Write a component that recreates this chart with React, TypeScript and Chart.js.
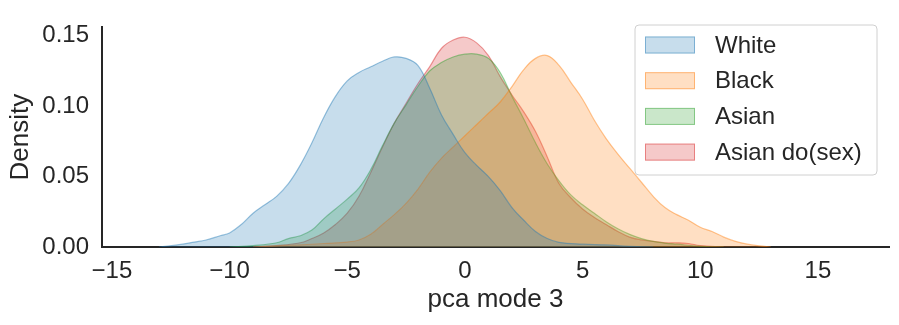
import React, { useEffect, useRef } from "react";
import { Chart, registerables } from "chart.js";

Chart.register(...registerables);

// ---- data ----
const seriesLabels = ["White", "Black", "Asian", "Asian do(sex)"];

const whiteX = [-13, -12, -11.5, -11, -10.4, -10, -9.5, -9, -8.5, -8, -7.5, -7, -6.5, -6, -5.5, -5, -4.5, -4, -3.5, -3, -2.5, -2, -1.5, -1, -0.5, 0, 0.5, 1, 1.5, 2, 2.5, 3, 3.5, 4, 5, 6, 7, 8];
const whiteY = [0, 0.002, 0.0035, 0.005, 0.008, 0.01, 0.016, 0.024, 0.03, 0.036, 0.045, 0.058, 0.074, 0.092, 0.107, 0.118, 0.124, 0.128, 0.132, 0.135, 0.134, 0.129, 0.113, 0.094, 0.08, 0.067, 0.058, 0.05, 0.04, 0.028, 0.019, 0.011, 0.006, 0.0033, 0.002, 0.0015, 0.0005, 0];

const blackX = [-9, -8, -7, -6, -5, -4.5, -4, -3.5, -3, -2.5, -2, -1.5, -1, -0.5, 0, 0.5, 1, 1.5, 2, 2.5, 3, 3.5, 4, 4.5, 5, 5.5, 6, 6.5, 7, 7.5, 8, 8.5, 9, 9.5, 10, 10.5, 11, 11.5, 12, 12.5, 13];
const blackY = [0, 0.0008, 0.0015, 0.0025, 0.0035, 0.005, 0.009, 0.016, 0.023, 0.031, 0.041, 0.053, 0.063, 0.071, 0.079, 0.087, 0.095, 0.103, 0.114, 0.126, 0.134, 0.136, 0.129, 0.117, 0.105, 0.09, 0.077, 0.066, 0.056, 0.046, 0.036, 0.028, 0.023, 0.019, 0.014, 0.011, 0.007, 0.004, 0.002, 0.0008, 0];

const asianX = [-10, -9, -8, -7.5, -7, -6.5, -6, -5.5, -5, -4.5, -4, -3.5, -3, -2.5, -2, -1.5, -1, -0.5, 0, 0.5, 1, 1.5, 2, 2.5, 3, 3.5, 4, 4.5, 5, 5.5, 6, 6.5, 7, 7.5, 8, 8.5, 9, 10, 11];
const asianY = [0, 0.001, 0.003, 0.006, 0.008, 0.012, 0.02, 0.027, 0.034, 0.042, 0.055, 0.072, 0.088, 0.101, 0.114, 0.125, 0.131, 0.135, 0.137, 0.137, 0.134, 0.124, 0.107, 0.091, 0.074, 0.059, 0.047, 0.037, 0.03, 0.024, 0.018, 0.013, 0.009, 0.006, 0.004, 0.0028, 0.002, 0.0005, 0];

const doSexX = [-9, -8, -7, -6.5, -6, -5.5, -5, -4.5, -4, -3.5, -3, -2.5, -2, -1.5, -1, -0.5, 0, 0.5, 1, 1.5, 2, 2.5, 3, 3.5, 4, 4.5, 5, 5.5, 6, 6.5, 7, 7.5, 8, 8.5, 9, 9.5, 10, 11];
const doSexY = [0, 0.001, 0.003, 0.006, 0.01, 0.016, 0.024, 0.036, 0.053, 0.071, 0.088, 0.102, 0.116, 0.128, 0.141, 0.147, 0.149, 0.145, 0.136, 0.121, 0.108, 0.096, 0.082, 0.064, 0.045, 0.035, 0.027, 0.021, 0.016, 0.011, 0.007, 0.005, 0.004, 0.003, 0.003, 0.0025, 0.001, 0];

const xTicks = [-15, -10, -5, 0, 5, 10, 15];
const yTicks = [0, 0.05, 0.1, 0.15];
const xLabel = "pca mode 3";
const yLabel = "Density";

// ---- styles ----
const baseColors = [
  [31, 119, 180],
  [255, 127, 14],
  [44, 160, 44],
  [214, 39, 40],
];
const rgba = (c: number[], a: number) => `rgba(${c[0]},${c[1]},${c[2]},${a})`;
const FONT = "'Liberation Sans', Arial, Helvetica, sans-serif";
const TEXT = "#262626";

const legendPlugin = {
  id: "insideLegend",
  afterDraw(chart: any) {
    const ctx = chart.ctx;
    const x0 = 635, y0 = 25, w = 242, h = 150, r = 4;
    ctx.save();
    ctx.beginPath();
    ctx.moveTo(x0 + r, y0);
    ctx.lineTo(x0 + w - r, y0);
    ctx.arcTo(x0 + w, y0, x0 + w, y0 + r, r);
    ctx.lineTo(x0 + w, y0 + h - r);
    ctx.arcTo(x0 + w, y0 + h, x0 + w - r, y0 + h, r);
    ctx.lineTo(x0 + r, y0 + h);
    ctx.arcTo(x0, y0 + h, x0, y0 + h - r, r);
    ctx.lineTo(x0, y0 + r);
    ctx.arcTo(x0, y0, x0 + r, y0, r);
    ctx.closePath();
    ctx.fillStyle = "rgba(255,255,255,0.8)";
    ctx.fill();
    ctx.strokeStyle = "#d0d0d0";
    ctx.lineWidth = 1;
    ctx.stroke();
    chart.data.datasets.forEach((ds: any, i: number) => {
      const cy = 45 + i * 35.7;
      ctx.fillStyle = ds.backgroundColor;
      ctx.fillRect(645, cy - 8.5, 50, 17);
      ctx.strokeStyle = ds.borderColor;
      ctx.lineWidth = 1;
      ctx.strokeRect(645.5, cy - 8, 49, 16);
      ctx.fillStyle = TEXT;
      ctx.font = `24px ${FONT}`;
      ctx.textAlign = "left";
      ctx.textBaseline = "middle";
      ctx.fillText(ds.label, 715, cy + 1);
    });
    ctx.restore();
  },
};

export default function App() {
  const ref = useRef<HTMLCanvasElement | null>(null);

  useEffect(() => {
    if (!ref.current) return;
    const xs = [whiteX, blackX, asianX, doSexX];
    const ys = [whiteY, blackY, asianY, doSexY];
    const datasets = seriesLabels.map((label, i) => ({
      label,
      data: xs[i].map((x, j) => ({ x, y: ys[i][j] })),
      backgroundColor: rgba(baseColors[i], 0.25),
      borderColor: rgba(baseColors[i], 0.45),
      borderWidth: 1.2,
      fill: "origin",
      pointRadius: 0,
      tension: 0.4,
    }));

    const chart = new Chart(ref.current, {
      type: "line",
      data: { datasets },
      plugins: [legendPlugin],
      options: {
        responsive: false,
        animation: false,
        devicePixelRatio: 1,
        layout: { padding: { top: 13, right: 10, left: 0, bottom: 0 } },
        plugins: { legend: { display: false }, tooltip: { enabled: false } },
        scales: {
          x: {
            type: "linear",
            min: -15.42,
            max: 18.02,
            grid: { display: true, drawOnChartArea: false, drawTicks: false, color: "rgba(0,0,0,0)" },
            border: { display: true, color: TEXT, width: 2 },
            afterBuildTicks: (s: any) => {
              s.ticks = xTicks.map((v) => ({ value: v }));
            },
            afterFit: (s: any) => {
              s.height = 78;
            },
            ticks: {
              padding: 10,
              color: TEXT,
              font: { family: FONT, size: 24 },
              maxRotation: 0,
              autoSkip: false,
              callback: (v: any) => (Number(v) < 0 ? "\u2212" + Math.abs(Number(v)) : String(v)),
            },
            title: {
              display: true,
              text: xLabel,
              color: TEXT,
              font: { family: FONT, size: 26 },
              padding: { top: 0, bottom: 10 },
            },
          },
          y: {
            type: "linear",
            min: 0,
            max: 0.156,
            grid: { display: true, drawOnChartArea: false, drawTicks: false, color: "rgba(0,0,0,0)" },
            border: { display: true, color: TEXT, width: 2 },
            afterBuildTicks: (s: any) => {
              s.ticks = yTicks.map((v) => ({ value: v }));
            },
            afterFit: (s: any) => {
              s.width = 102;
            },
            ticks: {
              padding: 13,
              color: TEXT,
              font: { family: FONT, size: 24 },
              callback: (v: any) => Number(v).toFixed(2),
            },
            title: {
              display: true,
              text: yLabel,
              color: TEXT,
              font: { family: FONT, size: 26 },
              padding: { top: 5, bottom: 0 },
            },
          },
        },
      },
    });
    return () => chart.destroy();
  }, []);

  return (
    <div style={{ position: "absolute", left: 0, top: 0, width: 899, height: 325, background: "#fff" }}>
      <canvas ref={ref} width={899} height={325} style={{ display: "block", width: 899, height: 325 }} />
    </div>
  );
}
